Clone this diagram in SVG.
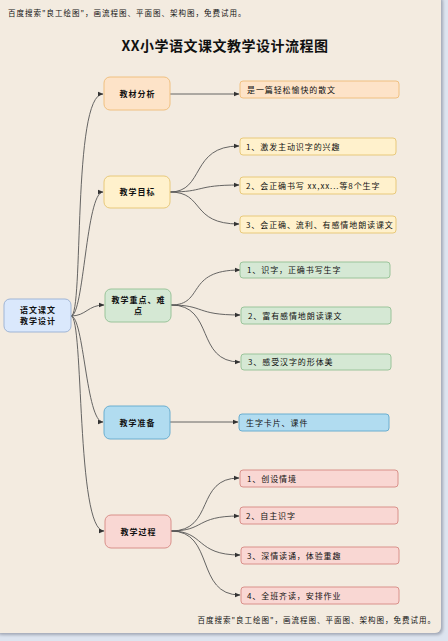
<svg xmlns="http://www.w3.org/2000/svg" width="448" height="641" viewBox="0 0 448 641">
<defs>
<marker id="arr" viewBox="0 0 6 6" refX="5.5" refY="3" markerWidth="6" markerHeight="6" markerUnits="userSpaceOnUse" orient="auto">
<path d="M0,0.5 L6,3 L0,5.5 Z" fill="#333"/>
</marker>
<filter id="sh" x="-5%" y="-5%" width="110%" height="110%">
<feDropShadow dx="2" dy="2" stdDeviation="1.5" flood-color="#7a8090" flood-opacity="0.6"/>
</filter>
</defs>
<style>
text{font-family:"Noto Sans CJK SC","Noto Sans",sans-serif;fill:#111;}
.l1{font-size:8px;font-weight:bold;text-anchor:middle;letter-spacing:1px;}
.l2{font-size:8px;letter-spacing:0.9px;}
.wm{font-size:7.5px;letter-spacing:1px;}
.c{fill:none;stroke:#555;stroke-width:0.9;marker-end:url(#arr);}
.or rect{fill:#fde3c8;stroke:#f0c080;stroke-width:1;}
.ye rect{fill:#fff1cc;stroke:#e8c97a;stroke-width:1;}
.gr rect{fill:#d5e8d4;stroke:#9ac49a;stroke-width:1;}
.bl rect{fill:#b1dcf0;stroke:#6aaed0;stroke-width:1;}
.pk rect{fill:#f9d7d3;stroke:#d9908a;stroke-width:1;}
.rt rect{fill:#dae8fc;stroke:#9fb5d6;stroke-width:1;}
</style>
<rect x="0" y="0" width="448" height="641" fill="#dde4ef"/>
<rect x="-6" y="-6" width="447" height="639" rx="6" fill="#f3ebe0" filter="url(#sh)"/>
<text class="wm" x="8" y="16">百度搜索"良工绘图"，画流程图、平面图、架构图，免费试用。</text>
<text x="225" y="51" style="font-size:14px;font-weight:bold;text-anchor:middle;letter-spacing:0.5px;">XX小学语文课文教学设计流程图</text>
<text class="wm" x="436" y="623" style="text-anchor:end;">百度搜索"良工绘图"，画流程图、平面图、架构图，免费试用。</text>

<g id="connectors">
<path class="c" d="M71,316 C84,316 72,94 103,94"/>
<path class="c" d="M71,316 C84,316 86,192 103,192"/>
<path class="c" d="M71,316 C86,316 88,305 104,305"/>
<path class="c" d="M71,316 C84,316 86,422 103,422"/>
<path class="c" d="M71,316 C84,316 76,531 104,531"/>
<path class="c" d="M170,94 L239,94"/>
<path class="c" d="M170,192 C205,192 190,146 239,146"/>
<path class="c" d="M170,192 C205,192 195,185 239,185"/>
<path class="c" d="M170,192 C205,192 190,224 239,224"/>
<path class="c" d="M171,305 C205,305 185,270 240,270"/>
<path class="c" d="M171,305 C205,305 195,315 240,315"/>
<path class="c" d="M171,305 C215,305 195,362 240,362"/>
<path class="c" d="M170,422 L238,422"/>
<path class="c" d="M171,531 C215,531 195,478 239,478"/>
<path class="c" d="M171,531 C205,531 195,516 239,516"/>
<path class="c" d="M171,531 C205,531 195,555 240,555"/>
<path class="c" d="M171,531 C215,531 195,595 240,595"/>
</g>

<g id="root" class="rt"><rect x="4" y="299" width="67" height="33" rx="6"/><text class="l1" x="38" y="313">语文课文</text><text class="l1" x="38" y="324">教学设计</text></g>

<g id="n1" class="or"><rect x="104" y="77" width="66" height="33" rx="6"/><text class="l1" x="137.5" y="97">教材分析</text></g>
<g id="n1a" class="or"><rect x="240" y="81" width="159" height="17" rx="3"/><text class="l2" x="247" y="93">是一篇轻松愉快的散文</text></g>

<g id="n2" class="ye"><rect x="104" y="176" width="66" height="32" rx="6"/><text class="l1" x="137.5" y="195">教学目标</text></g>
<g id="n2a" class="ye"><rect x="240" y="138" width="156" height="17" rx="3"/><text class="l2" x="246" y="150">1、激发主动识字的兴趣</text></g>
<g id="n2b" class="ye"><rect x="240" y="177" width="156" height="17" rx="3"/><text class="l2" x="246" y="189">2、会正确书写 xx,xx...等8个生字</text></g>
<g id="n2c" class="ye"><rect x="240" y="216" width="156" height="17" rx="3"/><text class="l2" x="246" y="228">3、会正确、流利、有感情地朗读课文</text></g>

<g id="n3" class="gr"><rect x="105" y="289" width="66" height="33" rx="6"/><text class="l1" x="138.5" y="303">教学重点、难</text><text class="l1" x="138.5" y="314">点</text></g>
<g id="n3a" class="gr"><rect x="240" y="262" width="150" height="16" rx="3"/><text class="l2" x="247" y="273">1、识字，正确书写生字</text></g>
<g id="n3b" class="gr"><rect x="241" y="307" width="150" height="17" rx="3"/><text class="l2" x="248" y="319">2、富有感情地朗读课文</text></g>
<g id="n3c" class="gr"><rect x="241" y="354" width="150" height="16" rx="3"/><text class="l2" x="248" y="365">3、感受汉字的形体美</text></g>

<g id="n4" class="bl"><rect x="104" y="406" width="66" height="33" rx="6"/><text class="l1" x="137.5" y="426">教学准备</text></g>
<g id="n4a" class="bl"><rect x="239" y="414" width="150" height="17" rx="3"/><text class="l2" x="246" y="426">生字卡片、课件</text></g>

<g id="n5" class="pk"><rect x="105" y="515" width="66" height="33" rx="6"/><text class="l1" x="138.5" y="535">教学过程</text></g>
<g id="n5a" class="pk"><rect x="240" y="470" width="158" height="17" rx="3"/><text class="l2" x="247" y="482">1、创设情境</text></g>
<g id="n5b" class="pk"><rect x="240" y="507" width="158" height="17" rx="3"/><text class="l2" x="246" y="519">2、自主识字</text></g>
<g id="n5c" class="pk"><rect x="241" y="547" width="158" height="17" rx="3"/><text class="l2" x="247" y="559">3、深情读诵，体验重趣</text></g>
<g id="n5d" class="pk"><rect x="241" y="587" width="158" height="17" rx="3"/><text class="l2" x="247" y="599">4、全班齐读，安排作业</text></g>
</svg>
